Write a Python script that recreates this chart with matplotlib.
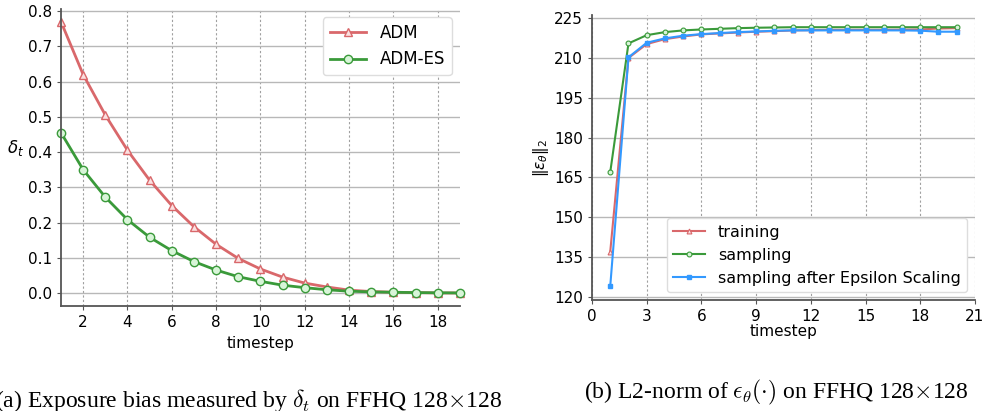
import matplotlib
matplotlib.use("Agg")
import matplotlib.pyplot as plt
import numpy as np

# ---- data: left panel (exposure bias) ----
t_left = list(range(1, 20))
adm = [0.77, 0.62, 0.505, 0.405, 0.32, 0.248, 0.188, 0.138, 0.098, 0.068,
       0.045, 0.028, 0.017, 0.008, 0.004, 0.002, 0.001, 0.0, 0.0]
adm_es = [0.455, 0.35, 0.272, 0.208, 0.158, 0.12, 0.089, 0.065, 0.046, 0.033,
          0.022, 0.015, 0.009, 0.005, 0.003, 0.002, 0.001, 0.0005, 0.0]

# ---- data: right panel (L2 norm) ----
t_right = list(range(1, 21))
training = [137, 210.0, 215.25, 217.1, 218.1, 218.9, 219.25, 219.6, 219.9, 220.1,
            220.4, 220.5, 220.6, 220.6, 220.6, 220.6, 220.65, 220.75, 221.1, 221.25]
sampling = [167, 215.5, 218.6, 219.75, 220.4, 220.75, 221.0, 221.25, 221.4, 221.5,
            221.6, 221.6, 221.6, 221.6, 221.6, 221.6, 221.6, 221.6, 221.6, 221.6]
sampling_es = [124, 210.25, 215.75, 217.4, 218.4, 219.0, 219.4, 219.75, 220.0, 220.25,
               220.4, 220.4, 220.4, 220.4, 220.4, 220.4, 220.4, 220.3, 219.9, 219.9]

left_xticks = list(range(2, 20, 2))
left_yticks = [0.0, 0.1, 0.2, 0.3, 0.4, 0.5, 0.6, 0.7, 0.8]
right_xticks = list(range(0, 22, 3))
right_yticks = list(range(120, 226, 15))

RED = "#d9686b"
GREEN = "#3a9a3a"
BLUE = "#3399ff"

fig = plt.figure(figsize=(9.87, 4.11), dpi=100)
ax1 = fig.add_axes([0.0618, 0.2555, 0.4042, 0.7225])
ax2 = fig.add_axes([0.5998, 0.270, 0.388, 0.6935])

def style(ax):
    ax.spines["top"].set_visible(False)
    ax.spines["right"].set_visible(False)
    for s in ("left", "bottom"):
        ax.spines[s].set_color("#555555")
        ax.spines[s].set_linewidth(1.3)
    ax.grid(axis="y", color="#b8b8b8", linewidth=1.0, linestyle="-")
    ax.grid(axis="x", color="#a0a0a0", linewidth=0.8, linestyle=(0, (2, 2)))
    ax.set_axisbelow(True)
    ax.tick_params(labelsize=11, length=3, color="#555555")

style(ax1)
ax1.plot(t_left, adm, color=RED, lw=2, marker="^", ms=6, mfc="#fbe0e0", mec=RED,
         mew=1, label="ADM", clip_on=False)
ax1.plot(t_left, adm_es, color=GREEN, lw=2, marker="o", ms=6, mfc="#d8f5d8", mec=GREEN,
         mew=1, label="ADM-ES", clip_on=False)
ax1.set_xlim(1, 19)
ax1.set_ylim(-0.037, 0.806)
ax1.set_xticks(left_xticks)
ax1.set_yticks(left_yticks)
ax1.set_yticklabels([f"{v:.1f}" for v in left_yticks])
ax1.set_xlabel("timestep", fontsize=11, labelpad=4)
ax1.set_ylabel(r"$\delta_t$", fontsize=12, rotation=0, ha="center", va="center")
ax1.yaxis.set_label_coords(-0.115, 0.532)
ax1.legend(loc="upper right", fontsize=12, borderaxespad=0.5,
           handlelength=2.2, framealpha=1, edgecolor="#dddddd")

style(ax2)
ax2.plot(t_right, training, color=RED, lw=1.5, marker="^", ms=3.5, mfc="#fbe0e0", mec=RED,
         mew=0.8, label="training")
ax2.plot(t_right, sampling, color=GREEN, lw=1.5, marker="o", ms=3.5, mfc="#d8f5d8", mec=GREEN,
         mew=0.8, label="sampling")
ax2.plot(t_right, sampling_es, color=BLUE, lw=1.5, marker="s", ms=2.2, mfc=BLUE, mec=BLUE,
         label="sampling after Epsilon Scaling")
ax2.set_xlim(0, 21)
ax2.set_ylim(118.8, 226.2)
ax2.set_xticks(right_xticks)
ax2.set_yticks(right_yticks)
ax2.set_xlabel("timestep", fontsize=11, labelpad=0)
ax2.set_ylabel(r"$\|\epsilon_\theta\|_2$", fontsize=11, labelpad=2)
ax2.legend(loc="lower right", fontsize=11.5, borderaxespad=0.5,
           handlelength=2.0, framealpha=1, edgecolor="#dddddd")

fig.text(-5 / 987, 4 / 411, r"(a) Exposure bias measured by $\delta_t$ on FFHQ 128$\times$128",
         ha="left", va="baseline", fontsize=17, family="Liberation Serif",
         math_fontfamily="cm")
fig.text(776 / 987, 13 / 411, r"(b) L2-norm of $\boldsymbol{\epsilon_\theta}(\cdot)$ on FFHQ 128$\times$128",
         ha="center", va="baseline", fontsize=17, family="Liberation Serif",
         math_fontfamily="cm")

fig.savefig("out.png", dpi=100)
